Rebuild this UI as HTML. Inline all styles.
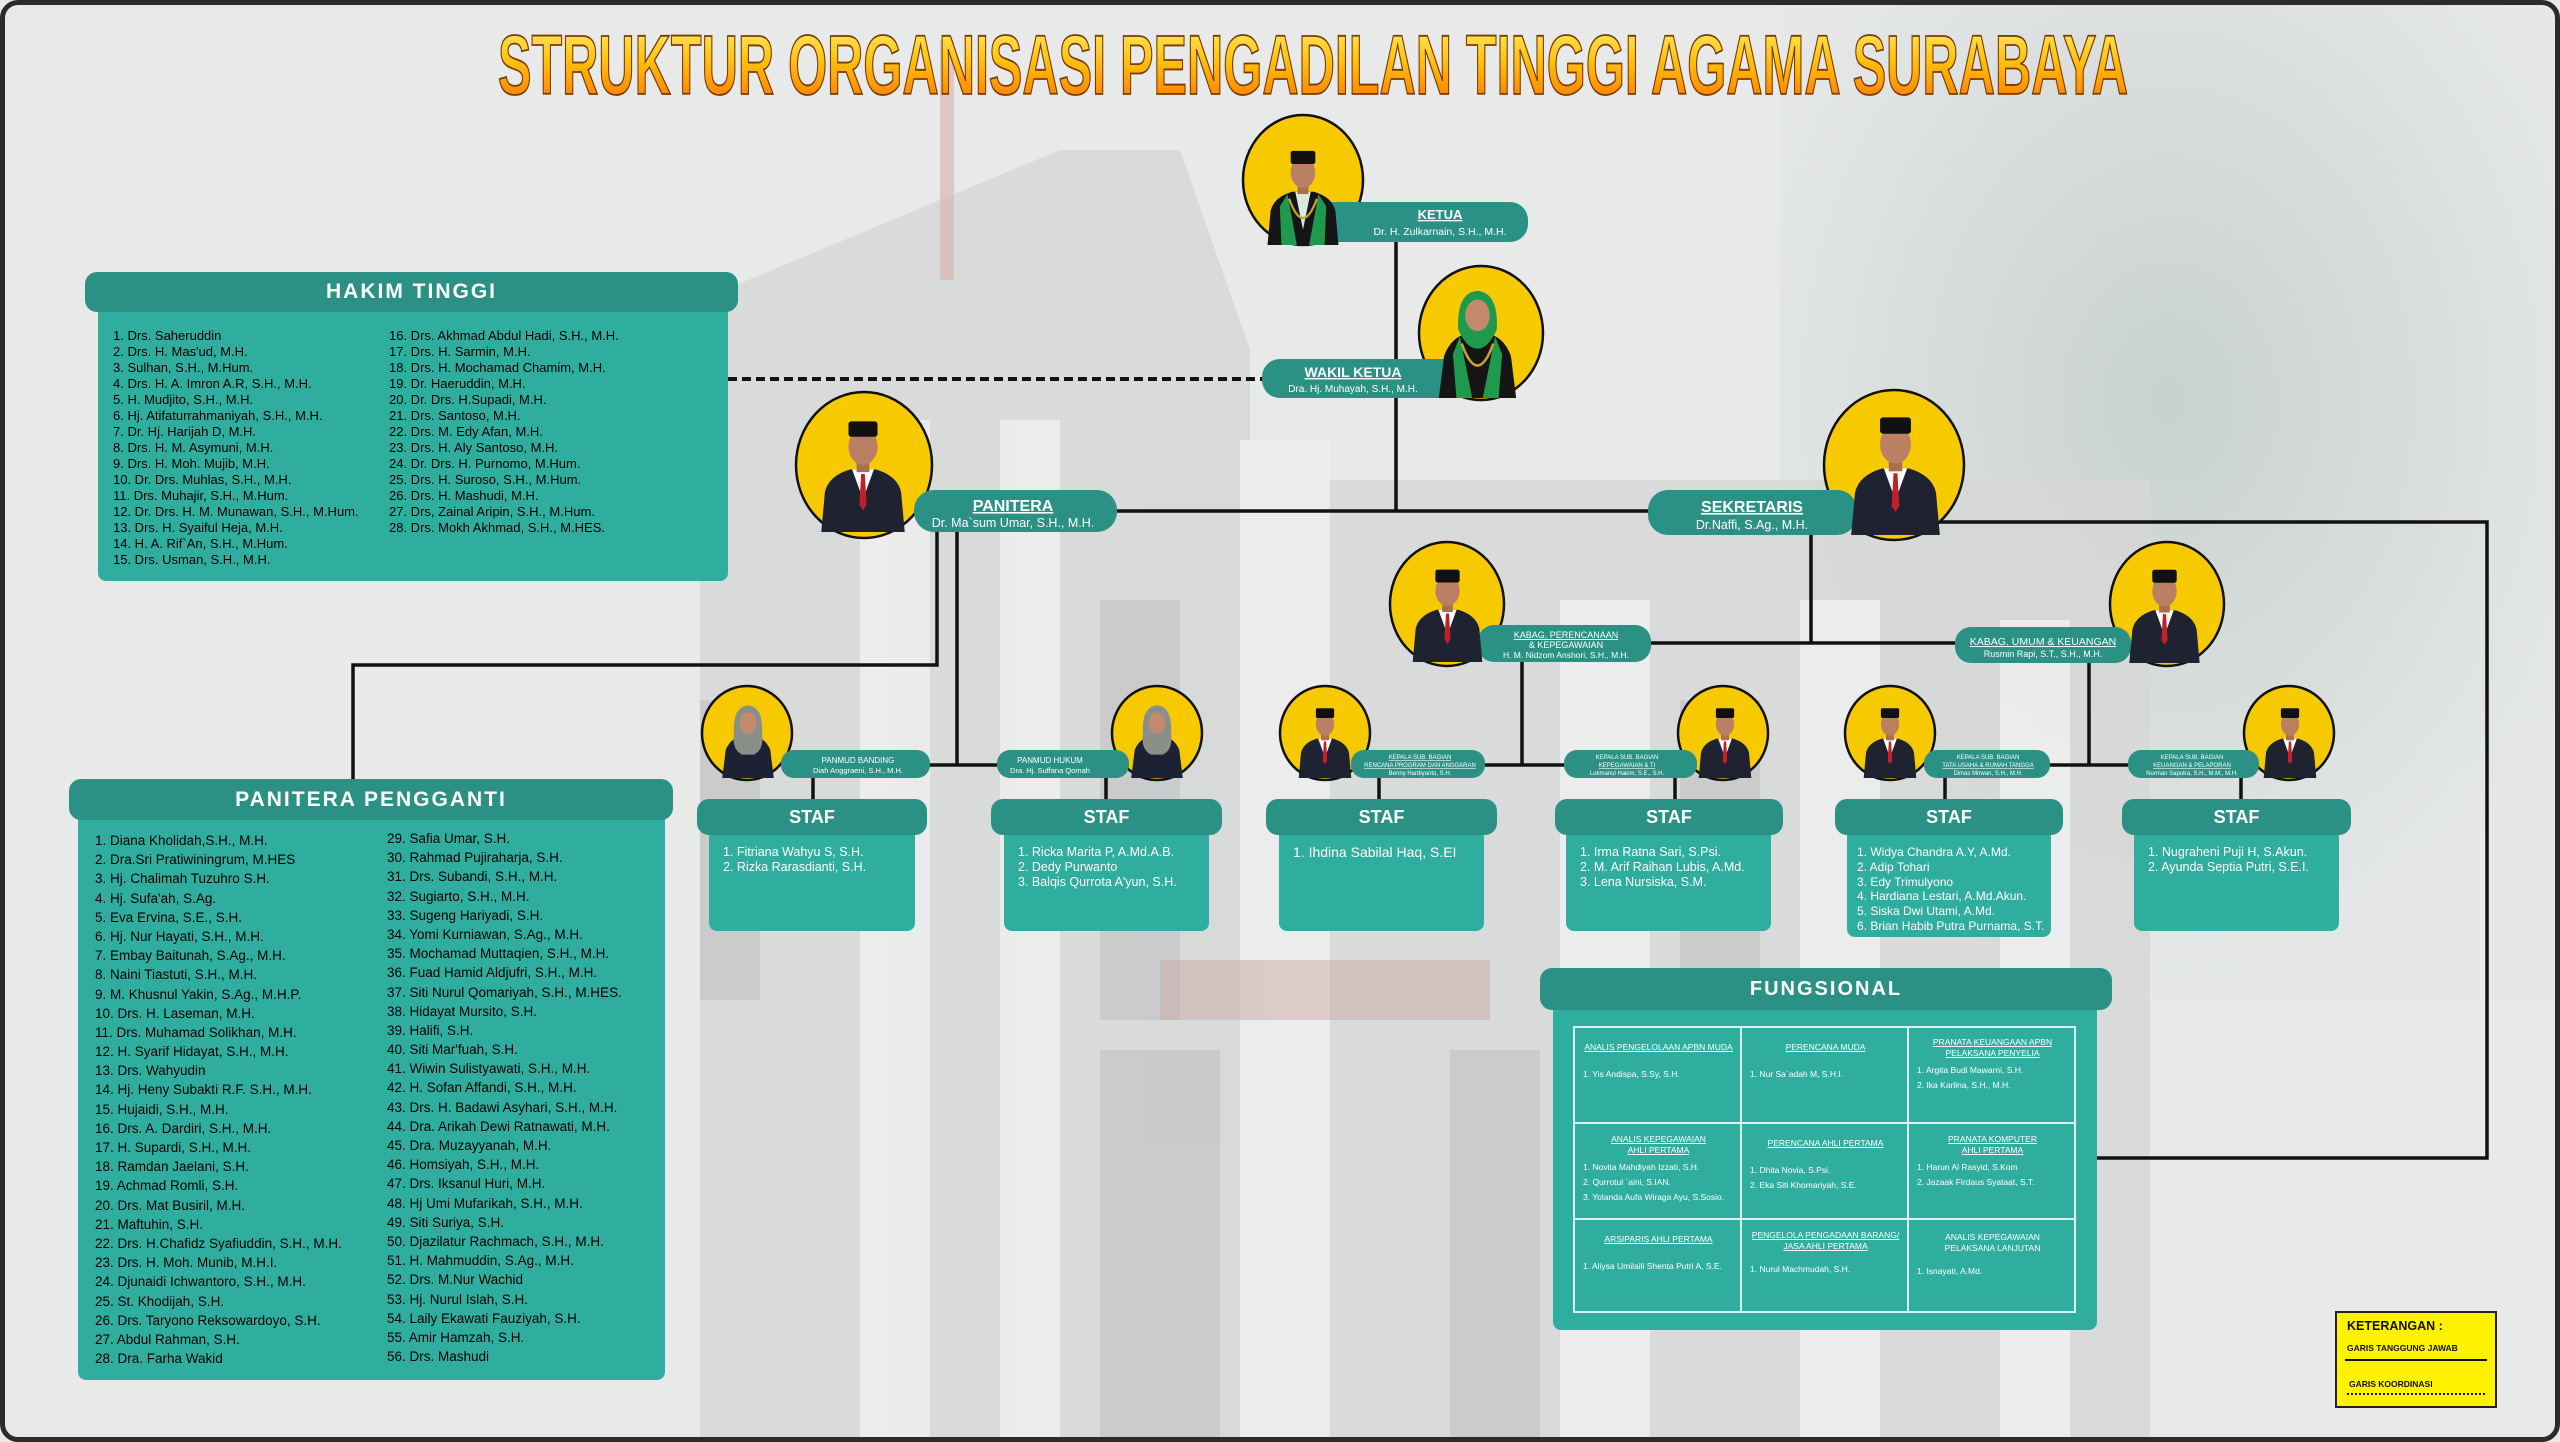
<!DOCTYPE html>
<html><head><meta charset="utf-8"><style>
*{margin:0;padding:0;box-sizing:border-box}
body{width:2560px;height:1442px;overflow:hidden;background:#e8e9e9;font-family:"Liberation Sans",sans-serif;position:relative}
.abs{position:absolute}
.hdr{position:absolute;background:#2a9184;border-radius:12px;color:#fff;font-weight:bold;text-align:center;letter-spacing:2px}
.bdy{position:absolute;background:#2fae9f;border-radius:0 0 8px 8px;color:#fff}
.col{position:absolute;white-space:nowrap}
.col div{height:16px;line-height:16px}
.pp div{height:19.2px;line-height:19.2px}
.st{position:absolute;font-size:12.5px;color:#fff;white-space:nowrap;line-height:14.8px;padding:10px 0 0 14px}
table.f{position:absolute;left:1573px;top:1026px;width:503px;height:287px;border-collapse:collapse;color:#fff}
table.f td{border:2px solid #d8f3ef;width:33.3%;vertical-align:top;font-size:8.5px;padding:14px 6px 0 8px}
table.f .h{text-align:center;text-decoration:underline;line-height:11px;margin-bottom:14px}
table.f .i{line-height:15px}
</style></head><body>
<svg class="abs" style="left:0;top:0" width="2560" height="1442">
<defs>
<linearGradient id="tg" x1="0" y1="0" x2="0" y2="1"><stop offset="0" stop-color="#fff27a"/><stop offset="0.45" stop-color="#ffc20e"/><stop offset="1" stop-color="#ff6a00"/></linearGradient>
<radialGradient id="tree" cx="0.5" cy="0.4" r="0.6"><stop offset="0" stop-color="#c5cfcc"/><stop offset="1" stop-color="#e6e8e8"/></radialGradient>
</defs>
<rect width="2560" height="1442" fill="#e8e9e9"/>
<rect x="1780" y="0" width="780" height="1000" fill="url(#tree)" opacity="0.9"/>
<g fill="#d6d7d7" opacity="0.85">
<polygon points="700,300 1060,150 1180,150 1250,350 1250,1442 700,1442"/>
<rect x="1250" y="480" width="900" height="962"/>
</g>
<g fill="#efefef" opacity="0.85">
<rect x="860" y="420" width="70" height="1022"/><rect x="1000" y="420" width="60" height="1022"/><rect x="1240" y="440" width="90" height="1002"/><rect x="1560" y="600" width="90" height="842"/><rect x="1800" y="600" width="80" height="842"/><rect x="2000" y="620" width="70" height="822"/>
</g>
<g fill="#c4c5c6" opacity="0.7">
<rect x="700" y="700" width="60" height="300"/><rect x="1100" y="600" width="80" height="420"/><rect x="1680" y="700" width="80" height="380"/><rect x="1100" y="1050" width="120" height="392"/><rect x="1450" y="1050" width="90" height="392"/>
</g>
<rect x="1160" y="960" width="330" height="60" fill="#c9a9a6" opacity="0.5"/>
<rect x="940" y="40" width="14" height="240" fill="#d9b0ae" opacity="0.6"/>
<text x="498" y="94" font-family="Liberation Sans" font-weight="bold" font-size="84" textLength="1630" lengthAdjust="spacingAndGlyphs" fill="url(#tg)" stroke="#7a3b00" stroke-width="1.8">STRUKTUR ORGANISASI PENGADILAN TINGGI AGAMA SURABAYA</text>
<g stroke="#111" stroke-width="3.5" fill="none">
<path d="M1396 242V511M1117 511H1650"/>
<path d="M1857 522H2487V1158H2097"/>
<path d="M937 532V665H353V779"/>
<path d="M957 532V765M929 765H997"/>
<path d="M1811 535V643M1651 643H1955"/>
<path d="M1522 662V765M1485 765H1564"/>
<path d="M2089 663V765M2050 765H2128"/>
<path d="M813 778V800M1106 778V800M1379 778V800M1675 778V800M1945 778V800M2241 778V800"/>
</g>
<path d="M728 379H1262" stroke="#111" stroke-width="4" stroke-dasharray="9 5"/>
</svg>

<!-- HAKIM TINGGI -->
<div class="bdy" style="left:98px;top:305px;width:630px;height:276px"></div>
<div class="hdr" style="left:85px;top:272px;width:653px;height:40px;font-size:21px;line-height:40px">HAKIM TINGGI</div>
<div class="col" style="left:113px;top:328px;font-size:13px">
<div>1. Drs. Saheruddin</div><div>2. Drs. H. Mas'ud, M.H.</div><div>3. Sulhan, S.H., M.Hum.</div><div>4. Drs. H. A. Imron A.R, S.H., M.H.</div><div>5. H. Mudjito, S.H., M.H.</div><div>6. Hj. Atifaturrahmaniyah, S.H., M.H.</div><div>7. Dr. Hj. Harijah D, M.H.</div><div>8. Drs. H. M. Asymuni, M.H.</div><div>9. Drs. H. Moh. Mujib, M.H.</div><div>10. Dr. Drs. Muhlas, S.H., M.H.</div><div>11. Drs. Muhajir, S.H., M.Hum.</div><div>12. Dr. Drs. H. M. Munawan, S.H., M.Hum.</div><div>13. Drs. H. Syaiful Heja, M.H.</div><div>14. H. A. Rif`An, S.H., M.Hum.</div><div>15. Drs. Usman, S.H., M.H.</div></div>
<div class="col" style="left:389px;top:328px;font-size:13px">
<div>16. Drs. Akhmad Abdul Hadi, S.H., M.H.</div><div>17. Drs. H. Sarmin, M.H.</div><div>18. Drs. H. Mochamad Chamim, M.H.</div><div>19. Dr. Haeruddin, M.H.</div><div>20. Dr. Drs. H.Supadi, M.H.</div><div>21. Drs. Santoso, M.H.</div><div>22. Drs. M. Edy Afan, M.H.</div><div>23. Drs. H. Aly Santoso, M.H.</div><div>24. Dr. Drs. H. Purnomo, M.Hum.</div><div>25. Drs. H. Suroso, S.H., M.Hum.</div><div>26. Drs. H. Mashudi, M.H.</div><div>27. Drs, Zainal Aripin, S.H., M.Hum.</div><div>28. Drs. Mokh Akhmad, S.H., M.HES.</div></div>

<!-- PANITERA PENGGANTI -->
<div class="bdy" style="left:78px;top:812px;width:587px;height:568px"></div>
<div class="hdr" style="left:69px;top:779px;width:604px;height:41px;font-size:21px;line-height:41px">PANITERA PENGGANTI</div>
<div class="col pp" style="left:95px;top:831px;font-size:13.5px">
<div>1. Diana Kholidah,S.H., M.H.</div><div>2. Dra.Sri Pratiwiningrum, M.HES</div><div>3. Hj. Chalimah Tuzuhro S.H.</div><div>4. Hj. Sufa'ah, S.Ag.</div><div>5. Eva Ervina, S.E., S.H.</div><div>6. Hj. Nur Hayati, S.H., M.H.</div><div>7. Embay Baitunah, S.Ag., M.H.</div><div>8. Naini Tiastuti,  S.H., M.H.</div><div>9. M. Khusnul Yakin, S.Ag., M.H.P.</div><div>10. Drs. H. Laseman, M.H.</div><div>11. Drs. Muhamad Solikhan, M.H.</div><div>12. H. Syarif Hidayat, S.H., M.H.</div><div>13. Drs. Wahyudin</div><div>14. Hj. Heny Subakti R.F.  S.H., M.H.</div><div>15. Hujaidi, S.H., M.H.</div><div>16. Drs. A. Dardiri, S.H., M.H.</div><div>17. H. Supardi, S.H., M.H.</div><div>18. Ramdan Jaelani, S.H.</div><div>19. Achmad Romli, S.H.</div><div>20. Drs. Mat Busiril, M.H.</div><div>21. Maftuhin, S.H.</div><div>22. Drs. H.Chafidz Syafiuddin, S.H., M.H.</div><div>23. Drs. H. Moh. Munib,  M.H.I.</div><div>24. Djunaidi Ichwantoro, S.H., M.H.</div><div>25. St. Khodijah, S.H.</div><div>26. Drs. Taryono Reksowardoyo, S.H.</div><div>27. Abdul Rahman, S.H.</div><div>28. Dra. Farha Wakid</div></div>
<div class="col pp" style="left:387px;top:829px;font-size:13.5px">
<div>29. Safia Umar, S.H.</div><div>30. Rahmad Pujiraharja, S.H.</div><div>31. Drs. Subandi, S.H., M.H.</div><div>32. Sugiarto, S.H., M.H.</div><div>33. Sugeng Hariyadi, S.H.</div><div>34. Yomi Kurniawan, S.Ag., M.H.</div><div>35. Mochamad Muttaqien, S.H., M.H.</div><div>36. Fuad Hamid Aldjufri,  S.H., M.H.</div><div>37. Siti Nurul Qomariyah,  S.H., M.HES.</div><div>38. Hidayat Mursito,  S.H.</div><div>39. Halifi,  S.H.</div><div>40. Siti Mar'fuah,  S.H.</div><div>41. Wiwin Sulistyawati,  S.H., M.H.</div><div>42. H. Sofan Affandi,  S.H., M.H.</div><div>43. Drs. H. Badawi Asyhari, S.H., M.H.</div><div>44. Dra. Arikah Dewi Ratnawati, M.H.</div><div>45. Dra. Muzayyanah, M.H.</div><div>46. Homsiyah, S.H., M.H.</div><div>47. Drs. Iksanul Huri, M.H.</div><div>48. Hj Umi Mufarikah, S.H., M.H.</div><div>49. Siti Suriya, S.H.</div><div>50. Djazilatur Rachmach, S.H., M.H.</div><div>51. H. Mahmuddin, S.Ag., M.H.</div><div>52. Drs. M.Nur Wachid</div><div>53. Hj. Nurul Islah, S.H.</div><div>54. Laily Ekawati Fauziyah, S.H.</div><div>55. Amir Hamzah, S.H.</div><div>56. Drs. Mashudi</div></div>

<!-- STAF boxes -->
<div class="bdy" style="left:709px;top:830px;width:206px;height:101px"></div>
<div class="hdr" style="left:697px;top:799px;width:230px;height:36px;font-size:18px;line-height:36px;letter-spacing:0">STAF</div>
<div class="st" style="left:709px;top:835px">1. Fitriana Wahyu S, S.H.<br>2. Rizka Rarasdianti, S.H.</div>

<div class="bdy" style="left:1004px;top:830px;width:205px;height:101px"></div>
<div class="hdr" style="left:991px;top:799px;width:231px;height:36px;font-size:18px;line-height:36px;letter-spacing:0">STAF</div>
<div class="st" style="left:1004px;top:835px">1. Ricka Marita P, A.Md.A.B.<br>2. Dedy Purwanto<br>3. Balqis Qurrota A'yun, S.H.</div>

<div class="bdy" style="left:1279px;top:830px;width:205px;height:101px"></div>
<div class="hdr" style="left:1266px;top:799px;width:231px;height:36px;font-size:18px;line-height:36px;letter-spacing:0">STAF</div>
<div class="st" style="left:1279px;top:835px;font-size:14px">1. Ihdina Sabilal Haq, S.EI</div>

<div class="bdy" style="left:1566px;top:830px;width:205px;height:101px"></div>
<div class="hdr" style="left:1555px;top:799px;width:228px;height:36px;font-size:18px;line-height:36px;letter-spacing:0">STAF</div>
<div class="st" style="left:1566px;top:835px">1. Irma Ratna Sari, S.Psi.<br>2. M. Arif Raihan Lubis, A.Md.<br>3. Lena Nursiska, S.M.</div>

<div class="bdy" style="left:1847px;top:830px;width:204px;height:107px"></div>
<div class="hdr" style="left:1835px;top:799px;width:228px;height:36px;font-size:18px;line-height:36px;letter-spacing:0">STAF</div>
<div class="st" style="left:1847px;top:835px;font-size:12px;padding-left:10px">1. Widya Chandra A.Y, A.Md.<br>2. Adip Tohari<br>3. Edy Trimulyono<br>4. Hardiana Lestari, A.Md.Akun.<br>5. Siska Dwi Utami, A.Md.<br>6. Brian Habib Putra Purnama, S.T.</div>

<div class="bdy" style="left:2134px;top:830px;width:205px;height:101px"></div>
<div class="hdr" style="left:2122px;top:799px;width:229px;height:36px;font-size:18px;line-height:36px;letter-spacing:0">STAF</div>
<div class="st" style="left:2134px;top:835px">1. Nugraheni Puji H, S.Akun.<br>2. Ayunda Septia Putri, S.E.I.</div>

<!-- FUNGSIONAL -->
<div class="bdy" style="left:1553px;top:1000px;width:544px;height:330px"></div>
<div class="hdr" style="left:1540px;top:968px;width:572px;height:42px;font-size:20px;line-height:42px">FUNGSIONAL</div>
<table class="f">
<tr style="height:96px"><td><div class="h">ANALIS PENGELOLAAN APBN MUDA</div><div class="i">1. Yis Andispa, S.Sy, S.H.</div></td>
<td><div class="h">PERENCANA MUDA</div><div class="i">1. Nur Sa`adah M, S.H.I.</div></td>
<td><div class="h" style="margin-bottom:4px;margin-top:-5px">PRANATA KEUANGAAN APBN<br>PELAKSANA PENYELIA</div><div class="i">1. Argita Budi Mawarni, S.H.<br>2. Ika Karlina, S.H., M.H.</div></td></tr>
<tr style="height:96px"><td><div class="h" style="margin-bottom:4px;margin-top:-4px">ANALIS KEPEGAWAIAN<br>AHLI PERTAMA</div><div class="i">1. Novita Mahdiyah Izzati, S.H.<br>2. Qurrotul `aini, S.IAN.<br>3. Yolanda Aufa Wiraga Ayu, S.Sosio.</div></td>
<td><div class="h">PERENCANA AHLI PERTAMA</div><div class="i">1. Dhita Novia, S.Psi.<br>2. Eka Siti Khomariyah, S.E.</div></td>
<td><div class="h" style="margin-bottom:4px;margin-top:-4px">PRANATA KOMPUTER<br>AHLI PERTAMA</div><div class="i">1. Harun Al Rasyid, S.Kom<br>2. Jazaak Firdaus Syataat, S.T.</div></td></tr>
<tr><td><div class="h">ARSIPARIS AHLI PERTAMA</div><div class="i">1. Aliysa Umilaili Shenta Putri A, S.E.</div></td>
<td><div class="h" style="margin-bottom:10px;margin-top:-4px">PENGELOLA PENGADAAN BARANG/<br>JASA AHLI PERTAMA</div><div class="i">1. Nurul Machmudah, S.H.</div></td>
<td><div class="h" style="margin-bottom:10px;margin-top:-2px;text-decoration:none">ANALIS KEPEGAWAIAN<br>PELAKSANA LANJUTAN</div><div class="i">1. Isnayati, A.Md.</div></td></tr>
</table>

<!-- KETERANGAN -->
<div class="abs" style="left:2335px;top:1311px;width:162px;height:97px;background:#fff200;border:2px solid #222;font-weight:bold;color:#111">
<div style="position:absolute;left:10px;top:6px;font-size:12.5px">KETERANGAN :</div>
<div style="position:absolute;left:10px;top:30px;font-size:8.5px">GARIS TANGGUNG JAWAB</div>
<div style="position:absolute;left:8px;top:46px;width:142px;border-top:2px solid #111"></div>
<div style="position:absolute;left:12px;top:66px;font-size:8.5px">GARIS KOORDINASI</div>
<div style="position:absolute;left:10px;top:80px;width:138px;border-top:2px dotted #111"></div>
</div>

<!-- NODES -->
<svg class="abs" style="left:0;top:0" width="2560" height="1442">
<defs>
<symbol id="man" viewBox="0 0 100 140">
<path d="M4 140 L8 96 Q12 78 36 71 L64 71 Q88 78 92 96 L96 140Z" fill="#1f2331"/>
<path d="M38 71 L50 104 L62 71Z" fill="#fff"/>
<path d="M48 76 L52 76 L54 110 L50 116 L46 110Z" fill="#c0202a"/>
<rect x="43" y="58" width="14" height="16" fill="#a8704f"/>
<ellipse cx="50" cy="46" rx="16" ry="20" fill="#b98063"/>
<rect x="34" y="18" width="32" height="17" rx="3" fill="#111"/>
</symbol>
<symbol id="mang" viewBox="0 0 100 140">
<path d="M4 140 L8 96 Q12 78 36 71 L64 71 Q88 78 92 96 L96 140Z" fill="#151515"/>
<path d="M30 74 L42 140 L22 140 L20 90Z M70 74 L58 140 L78 140 L80 90Z" fill="#1f9a4c"/>
<path d="M40 71 L50 120 L60 71Z" fill="#d9e9e0"/>
<path d="M32 80 Q50 130 68 80" stroke="#c8a03a" stroke-width="3" fill="none"/>
<rect x="43" y="58" width="14" height="16" fill="#a8704f"/>
<ellipse cx="50" cy="46" rx="16" ry="20" fill="#b98063"/>
<rect x="34" y="18" width="32" height="17" rx="3" fill="#111"/>
</symbol>
<symbol id="womg" viewBox="0 0 100 140">
<path d="M6 140 L12 92 Q20 70 40 66 L60 66 Q80 70 88 92 L94 140Z" fill="#151515"/>
<path d="M30 70 L44 140 L26 140 L22 90Z M70 70 L56 140 L74 140 L78 90Z" fill="#1f9a4c"/>
<path d="M28 62 Q26 20 50 18 Q74 20 72 62 Q62 84 50 84 Q38 84 28 62Z" fill="#1f9a4c"/>
<ellipse cx="50" cy="46" rx="14" ry="18" fill="#c48a6c"/>
<path d="M32 78 Q50 128 68 78" stroke="#c8a03a" stroke-width="3" fill="none"/>
</symbol>
<symbol id="wom" viewBox="0 0 100 140">
<path d="M6 140 L12 92 Q20 72 40 68 L60 68 Q80 72 88 92 L94 140Z" fill="#1c2233"/>
<path d="M26 62 Q24 18 50 16 Q76 18 74 62 Q78 92 60 100 L40 100 Q22 92 26 62Z" fill="#8b8f8a"/>
<ellipse cx="50" cy="46" rx="14" ry="18" fill="#c48a6c"/>
</symbol>
</defs>
<g stroke="#111" stroke-width="2.5" fill="#f7c900">
<ellipse cx="1303" cy="180" rx="60" ry="65"/>
<ellipse cx="1481" cy="333" rx="62" ry="67"/>
<ellipse cx="864" cy="465" rx="68" ry="73"/>
<ellipse cx="1894" cy="465" rx="70" ry="75"/>
<ellipse cx="1447" cy="604" rx="57" ry="62"/>
<ellipse cx="2167" cy="604" rx="57" ry="62"/>
<ellipse cx="747" cy="733" rx="45" ry="47"/>
<ellipse cx="1157" cy="733" rx="45" ry="47"/>
<ellipse cx="1325" cy="733" rx="45" ry="47"/>
<ellipse cx="1723" cy="733" rx="45" ry="47"/>
<ellipse cx="1890" cy="733" rx="45" ry="47"/>
<ellipse cx="2289" cy="733" rx="45" ry="47"/>
</g>
<g fill="#2a9184">
<rect x="1306" y="202" width="222" height="40" rx="18"/>
<rect x="1262" y="359" width="224" height="39" rx="18"/>
<rect x="914" y="490" width="203" height="42" rx="20"/>
<rect x="1648" y="490" width="209" height="45" rx="20"/>
<rect x="1478" y="625" width="173" height="37" rx="16"/>
<rect x="1955" y="627" width="176" height="36" rx="16"/>
<rect x="781" y="750" width="149" height="28" rx="13"/>
<rect x="997" y="750" width="132" height="28" rx="13"/>
<rect x="1351" y="750" width="134" height="28" rx="13"/>
<rect x="1564" y="750" width="133" height="28" rx="13"/>
<rect x="1924" y="750" width="126" height="28" rx="13"/>
<rect x="2128" y="750" width="131" height="28" rx="13"/>
</g>
<use href="#mang" x="1258" y="137" width="90" height="108"/>
<use href="#womg" x="1425" y="275" width="105" height="123"/>
<use href="#man" x="808" y="405" width="110" height="127"/>
<use href="#man" x="1833" y="400" width="125" height="135"/>
<use href="#man" x="1400" y="556" width="95" height="106"/>
<use href="#man" x="2117" y="556" width="95" height="107"/>
<use href="#wom" x="713" y="696" width="70" height="82"/>
<use href="#wom" x="1122" y="696" width="70" height="82"/>
<use href="#man" x="1290" y="698" width="70" height="80"/>
<use href="#man" x="1690" y="698" width="70" height="80"/>
<use href="#man" x="1855" y="698" width="70" height="80"/>
<use href="#man" x="2255" y="698" width="70" height="80"/>
<g fill="#fff" font-family="Liberation Sans" text-anchor="middle">
<text x="1440" y="219" font-size="13" font-weight="bold" text-decoration="underline">KETUA</text>
<text x="1440" y="235" font-size="10.5">Dr. H. Zulkarnain, S.H., M.H.</text>
<text x="1353" y="377" font-size="14" font-weight="bold" text-decoration="underline">WAKIL KETUA</text>
<text x="1353" y="392" font-size="10">Dra. Hj. Muhayah, S.H., M.H.</text>
<text x="1013" y="511" font-size="16" font-weight="bold" text-decoration="underline">PANITERA</text>
<text x="1013" y="527" font-size="12.5">Dr. Ma`sum Umar, S.H., M.H.</text>
<text x="1752" y="512" font-size="16" font-weight="bold" text-decoration="underline">SEKRETARIS</text>
<text x="1752" y="529" font-size="12.5">Dr.Naffi, S.Ag., M.H.</text>
<text x="1566" y="638" font-size="9" text-decoration="underline">KABAG. PERENCANAAN</text>
<text x="1566" y="648" font-size="9">&amp; KEPEGAWAIAN</text>
<text x="1566" y="658" font-size="8.5">H. M. Nidzom Anshori, S.H., M.H.</text>
<text x="2043" y="645" font-size="10.5" text-decoration="underline">KABAG. UMUM &amp; KEUANGAN</text>
<text x="2043" y="657" font-size="9">Rusmin Rapi, S.T., S.H., M.H.</text>
<text x="858" y="763" font-size="8">PANMUD BANDING</text>
<text x="858" y="773" font-size="7.5">Diah Anggraeni, S.H., M.H.</text>
<text x="1050" y="763" font-size="8">PANMUD HUKUM</text>
<text x="1050" y="773" font-size="7.5">Dra. Hj. Suffana Qomah</text>
<g font-size="6">
<text x="1420" y="759" text-decoration="underline">KEPALA SUB. BAGIAN</text>
<text x="1420" y="767" text-decoration="underline">RENCANA PROGRAM DAN ANGGARAN</text>
<text x="1420" y="775">Benny Hardiyanto, S.H.</text>
<text x="1627" y="759">KEPALA SUB. BAGIAN</text>
<text x="1627" y="767" text-decoration="underline">KEPEGAWAIAN &amp; TI</text>
<text x="1627" y="775">Lukmanul Hakim, S.E., S.H.</text>
<text x="1988" y="759">KEPALA SUB. BAGIAN</text>
<text x="1988" y="767" text-decoration="underline">TATA USAHA &amp; RUMAH TANGGA</text>
<text x="1988" y="775">Dimas Mirwan, S.H., M.H.</text>
<text x="2192" y="759">KEPALA SUB. BAGIAN</text>
<text x="2192" y="767" text-decoration="underline">KEUANGAN &amp; PELAPORAN</text>
<text x="2192" y="775">Nurman Saputra, S.H., M.M., M.H.</text>
</g>
</g>
</svg>
<div class="abs" style="left:0;top:0;width:2560px;height:1442px;border:5px solid #2b2b2b;border-radius:18px"></div>
</body></html>
